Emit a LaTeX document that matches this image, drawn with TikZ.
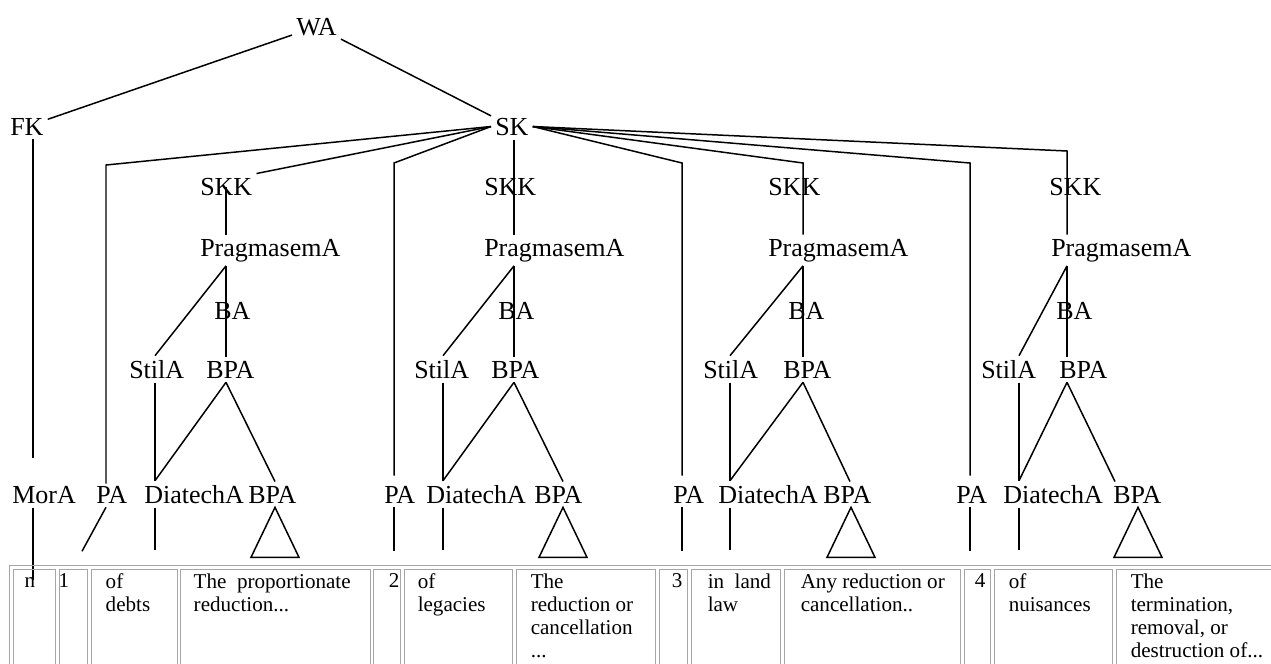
\documentclass[tikz,border=0pt]{standalone}
\usepackage{fontspec}
\setmainfont{Liberation Serif}
\usetikzlibrary{calc}

\begin{document}
\begin{tikzpicture}[x=0.02cm,y=-0.02cm,line width=0.85pt]
\tikzset{
  lbl/.style={anchor=base west,inner sep=2pt,font=\fontsize{14.8}{16}\selectfont},
  cel/.style={anchor=north west,inner sep=0pt,align=left,font=\fontsize{12}{13.2}\selectfont},
  grid/.style={draw=gray!70,line width=0.5pt}
}
\useasboundingbox (0,0) rectangle (1271,663);

% Top of the tree
\node[lbl] (wa) at (292,35) {WA};
\node[lbl] (fk) at (6,135) {FK};
\node[lbl] (sk) at (491,135) {SK};
\node[lbl] (mora) at (8,503) {MorA};
\draw (wa) -- (fk);
\draw (wa) -- (sk);

% FK down to MorA
\coordinate (fx) at (33,0);
\draw (fk.south -| fx) -- ($(mora.north -| fx)+(0,-24)$);
\draw (mora.south -| fx) -- ++(0,72);

% The four groups
\foreach \i/\p/\c/\s/\r/\a/\dx/\xk/\xp/\xb/\xs/\xq/\xa/\xd/\xl in {
  1/106/226/155/275/275/-24/196/196/210/125/202/92/140/244,
  2/394/514/443/563/563/0/480/480/494/410/487/380/422/530,
  3/682/803/730/850/851/0/764/764/784/699/779/669/714/819,
  4/970/1067/1019/1115/1138/0/1045/1047/1052/977/1055/952/999/1109}
{
  \node[lbl] (skk\i) at (\xk,195) {SKK};
  \node[lbl] (prag\i) at (\xp,256) {PragmasemA};
  \node[lbl] (ba\i) at (\xb,319) {BA};
  \node[lbl] (stil\i) at (\xs,378) {StilA};
  \node[lbl] (bpa\i) at (\xq,378) {BPA};
  \node[lbl] (pa\i) at (\xa,503) {PA};
  \node[lbl] (diat\i) at (\xd,503) {DiatechA};
  \node[lbl] (bpb\i) at (\xl,503) {BPA};
  \coordinate (m\i) at (\c,0);
  \coordinate (s\i) at (\s,0);
  \coordinate (r\i) at (\r,0);
  \coordinate (a\i) at (\a,0);
  \coordinate (q\i) at (\p,0);
  % Draw the branches
  \draw (prag\i.south -| m\i) -- (bpa\i.north -| m\i);
  \draw (prag\i.south -| m\i) -- (stil\i.north -| s\i);
  \draw (stil\i.south -| s\i) -- (diat\i.north -| s\i);
  \draw (bpa\i.south -| m\i) -- (diat\i.north -| s\i);
  \draw (bpa\i.south -| m\i) -- (bpb\i.north -| r\i);
  \draw (bpb\i.south -| a\i) -- ++(-24,50) -- ++(48,0) -- cycle;
  \draw (diat\i.south -| s\i) -- ++(0,42);
  \draw (pa\i.south -| q\i) -- ++(\dx,44);
}

% SK down to the groups
\coordinate (pk1) at (106,165);
\coordinate (pk2) at (394,163);
\coordinate (pk3) at (682,163);
\coordinate (pk4) at (970,163);
\coordinate (ck3) at (803,163);
\coordinate (ck4) at (1067,151);
\draw (sk.west) -- (pk1) -- ($(pa1.north -| pk1)+(0,2)$);
\draw (sk.west) -- (skk1.north east);
\draw (skk1.center -| m1) -- (prag1.north -| m1);
\draw (sk.west) -- (pk2) -- ($(pa2.north -| pk2)+(0,-6)$);
\draw (sk.south -| m2) -- (prag2.north -| m2);
\draw (sk.east) -- (pk3) -- ($(pa3.north -| pk3)+(0,-6)$);
\draw (sk.east) -- (ck3) -- (prag3.north -| ck3);
\draw (sk.east) -- (pk4) -- ($(pa4.north -| pk4)+(0,-6)$);
\draw (sk.east) -- (ck4) -- (prag4.north -| ck4);

% Draw the table
\draw[grid] (9,700) -- (9,565) -- (1290,565);
\foreach \ua/\ub in {13/55,59/87,91/177,180/370,373/400,404/512,516/655,
  659/687,691/780,784/960,964/990,994/1112,1116/1290}
  \draw[grid] (\ua,569) rectangle (\ub,700);

% Cell texts
\node[cel,anchor=base west] (t1) at (24,587) {n};
\node[cel,anchor=base west] (t2) at (58,587) {1};
\node[cel] (t3) at (105,573) {of\\debts};
\node[cel] (t4) at (193,573) {The \ proportionate\\reduction...};
\node[cel,anchor=base west] (t5) at (388,587) {2};
\node[cel] (t6) at (417,573) {of\\legacies};
\node[cel] (t7) at (530,573) {The\\reduction or\\cancellation\\...};
\node[cel,anchor=base west] (t8) at (671,587) {3};
\node[cel] (t9) at (707,573) {in \ land\\law};
\node[cel] (t10) at (800,573) {Any reduction or\\cancellation..};
\node[cel,anchor=base west] (t11) at (974,587) {4};
\node[cel] (t12) at (1008,573) {of\\nuisances};
\node[cel] (t13) at (1130,573) {The\\termination,\\removal, or\\destruction of...};
\end{tikzpicture}
\end{document}
